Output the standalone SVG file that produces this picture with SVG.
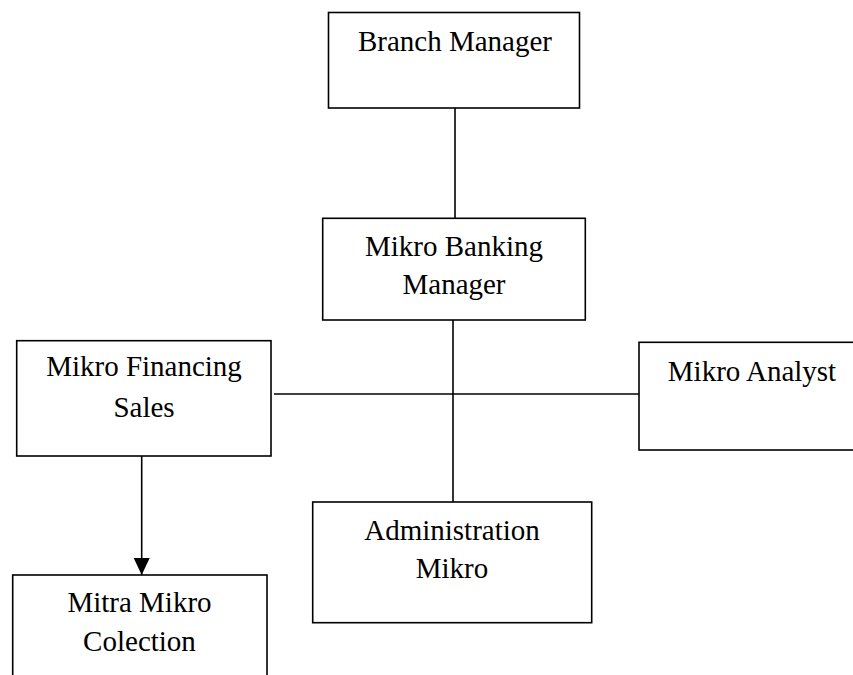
<svg xmlns="http://www.w3.org/2000/svg" width="853" height="675" viewBox="0 0 853 675">
<style>
.box{fill:#fff;stroke:#000;stroke-width:1.6}
.ln{fill:none;stroke:#000;stroke-width:1.6}
text{font-family:"Liberation Serif","Times New Roman",serif;font-size:29px;fill:#000;text-anchor:middle}
</style>
<defs>
<marker id="arr" markerUnits="userSpaceOnUse" markerWidth="18" markerHeight="18" viewBox="0 0 18 18" refX="17" refY="9" orient="auto">
<path d="M0,1 L17,9 L0,17 Z" fill="#000"/>
</marker>
</defs>
<rect width="853" height="675" fill="#fff"/>
<g id="connectors">
<line class="ln" x1="455" y1="108" x2="455" y2="218"/>
<line class="ln" x1="453" y1="320" x2="453" y2="502"/>
<line class="ln" x1="274" y1="394" x2="639" y2="394"/>
<line class="ln" x1="141.7" y1="456" x2="141.7" y2="575" marker-end="url(#arr)"/>
</g>
<g id="branch-manager">
<rect class="box" x="328.5" y="12.5" width="251" height="95.5"/>
<text x="455" y="51">Branch Manager</text>
</g>
<g id="mikro-banking-manager">
<rect class="box" x="322.7" y="218.3" width="262.6" height="101.7"/>
<text x="454" y="255.5">Mikro Banking</text>
<text x="454" y="293.5">Manager</text>
</g>
<g id="mikro-financing-sales">
<rect class="box" x="16.7" y="340.7" width="254.3" height="115.3"/>
<text x="144" y="376">Mikro Financing</text>
<text x="144" y="416.5">Sales</text>
</g>
<g id="mikro-analyst">
<rect class="box" x="639" y="342.3" width="240" height="107.7"/>
<text x="752" y="381">Mikro Analyst</text>
</g>
<g id="administration-mikro">
<rect class="box" x="312.7" y="502" width="279" height="120.7"/>
<text x="452" y="539.5">Administration</text>
<text x="452" y="578">Mikro</text>
</g>
<g id="mitra-mikro-colection">
<rect class="box" x="12.7" y="575" width="254.3" height="130"/>
<text x="139.5" y="611.5">Mitra Mikro</text>
<text x="139.5" y="650.5">Colection</text>
</g>
</svg>
